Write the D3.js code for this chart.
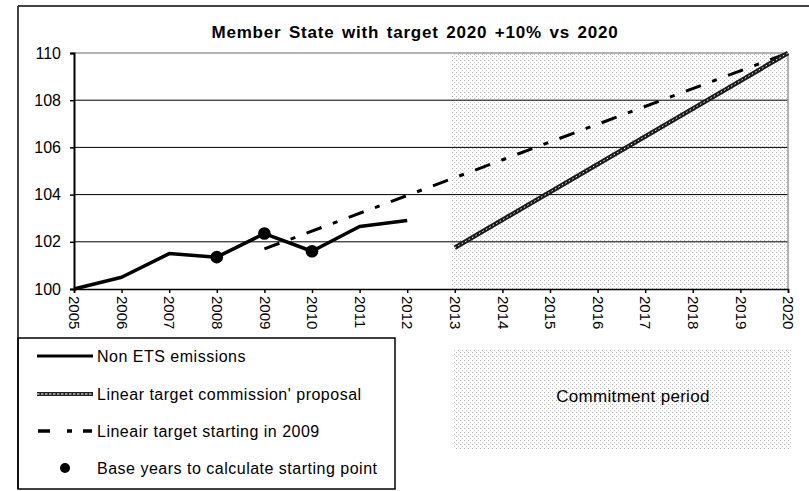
<!DOCTYPE html>
<html>
<head>
<meta charset="utf-8">
<script src="https://cdn.jsdelivr.net/npm/d3@7"></script>
<style>
  body { margin: 0; background: #fff; }
  svg text { font-family: "Liberation Sans", Arial, sans-serif; fill: #000; }
</style>
</head>
<body>
<svg id="chart" width="809" height="491"></svg>
<script>
// chart data
const years = [2005, 2006, 2007, 2008, 2009, 2010, 2011, 2012, 2013, 2014, 2015, 2016, 2017, 2018, 2019, 2020];
const yTicks = [100, 102, 104, 106, 108, 110];

// non ETS emissions (index 2005 = 100)
const emissionYears = [2005, 2006, 2007, 2008, 2009, 2010, 2011, 2012];
const emissionValues = [100, 100.5, 101.5, 101.35, 102.35, 101.6, 102.65, 102.9];

// linear target commission' proposal
const commissionYears = [2013, 2020];
const commissionValues = [101.75, 110];

// lineair target starting in 2009
const target2009Years = [2009, 2020];
const target2009Values = [101.7, 110];

// base years used for the starting point
const baseYears = [2008, 2009, 2010];

const commitmentStart = 2013;
const commitmentEnd = 2020;

const svg = d3.select('#chart');

// pixel layout
const plotLeft = 74, plotRight = 788, plotTop = 53, plotBottom = 289;

const x = d3.scaleLinear().domain([2005, 2020]).range([plotLeft, plotRight]);
const y = d3.scaleLinear().domain([100, 110]).range([plotBottom, plotTop]);

// dotted fill used for the commitment period
const defs = svg.append('defs');
const pat = defs.append('pattern')
    .attr('id', 'dots')
    .attr('patternUnits', 'userSpaceOnUse')
    .attr('width', 4)
    .attr('height', 4);
pat.append('rect').attr('x', 0).attr('y', 0).attr('width', 1).attr('height', 1).attr('fill', '#b0b0b0');
pat.append('rect').attr('x', 2).attr('y', 2).attr('width', 1).attr('height', 1).attr('fill', '#c8c8c8');

// outer frame (top + left only)
svg.append('line').attr('x1', 18).attr('x2', 809).attr('y1', 6).attr('y2', 6)
    .attr('stroke', '#444').attr('stroke-width', 2);
svg.append('line').attr('x1', 18).attr('x2', 18).attr('y1', 6).attr('y2', 489)
    .attr('stroke', '#444').attr('stroke-width', 2);

// title
svg.append('text')
    .attr('x', 415).attr('y', 38)
    .attr('text-anchor', 'middle')
    .style('font-size', '17px')
    .style('font-weight', 'bold')
    .style('letter-spacing', '0.8px')
    .style('word-spacing', '2px')
    .text('Member State with target 2020 +10% vs 2020');

// commitment period shading
svg.append('rect')
    .attr('x', x(commitmentStart) - 4)
    .attr('y', plotTop)
    .attr('width', x(commitmentEnd) - x(commitmentStart) + 4)
    .attr('height', plotBottom - plotTop)
    .attr('fill', 'url(#dots)');

// gridlines
svg.append('g')
    .selectAll('line')
    .data(yTicks.filter(d => d > 100 && d < 110))
    .join('line')
    .attr('x1', plotLeft).attr('x2', plotRight)
    .attr('y1', d => y(d)).attr('y2', d => y(d))
    .attr('stroke', '#000').attr('stroke-width', 1);

// plot border top/right in grey
svg.append('line').attr('x1', plotLeft).attr('x2', plotRight).attr('y1', plotTop).attr('y2', plotTop)
    .attr('stroke', '#999').attr('stroke-width', 1.5);
svg.append('line').attr('x1', plotRight).attr('x2', plotRight).attr('y1', plotTop).attr('y2', plotBottom)
    .attr('stroke', '#999').attr('stroke-width', 1.5);

// axes
const yAxis = d3.axisLeft(y).tickValues(yTicks).tickSize(4).tickPadding(9).tickFormat(d3.format('d'));
const gy = svg.append('g').attr('transform', `translate(${plotLeft},0)`).call(yAxis);
gy.select('.domain').attr('stroke-width', 2);
gy.selectAll('.tick line').attr('stroke-width', 1.5);
gy.selectAll('.tick text').style('font-size', '16px').attr('font-family', null);

const xAxis = d3.axisBottom(x).tickValues(years).tickSize(4).tickFormat(d3.format('d'));
const gx = svg.append('g').attr('transform', `translate(0,${plotBottom})`).call(xAxis);
gx.select('.domain').attr('stroke-width', 1.5);
gx.selectAll('.tick line').attr('stroke-width', 1.5);
gx.selectAll('.tick text')
    .style('font-size', '15px')
    .attr('font-family', null)
    .attr('transform', 'rotate(90)')
    .attr('text-anchor', 'start')
    .attr('x', 7)
    .attr('y', 0)
    .attr('dy', '0.35em');

const line = d3.line().x(d => x(d[0])).y(d => y(d[1]));

// lineair target starting in 2009
const target2009 = target2009Years.map((yr, i) => [yr, target2009Values[i]]);
svg.append('path')
    .datum(target2009)
    .attr('d', line)
    .attr('fill', 'none')
    .attr('stroke', '#000')
    .attr('stroke-width', 3)
    .attr('stroke-dasharray', '16,12,5,12');

// linear target commission' proposal
const commission = commissionYears.map((yr, i) => [yr, commissionValues[i]]);
svg.append('path')
    .datum(commission)
    .attr('d', line)
    .attr('fill', 'none')
    .attr('stroke', '#1a1a1a')
    .attr('stroke-width', 4.5);
svg.append('path')
    .datum(commission)
    .attr('d', line)
    .attr('fill', 'none')
    .attr('stroke', '#fff')
    .attr('stroke-width', 1)
    .attr('stroke-dasharray', '1.5,2.5');

// non ETS emissions
const emissions = emissionYears.map((yr, i) => [yr, emissionValues[i]]);
svg.append('path')
    .datum(emissions)
    .attr('d', line)
    .attr('fill', 'none')
    .attr('stroke', '#000')
    .attr('stroke-width', 3.5)
    .attr('stroke-linejoin', 'round');

// base year markers
svg.append('g')
    .selectAll('circle')
    .data(emissions.filter(d => baseYears.includes(d[0])))
    .join('circle')
    .attr('cx', d => x(d[0]))
    .attr('cy', d => y(d[1]))
    .attr('r', 6.3)
    .attr('fill', '#000');

// legend box
svg.append('rect')
    .attr('x', 18).attr('y', 338)
    .attr('width', 377).attr('height', 151)
    .attr('fill', 'none')
    .attr('stroke', '#000')
    .attr('stroke-width', 1.5);

const legendItems = [
    { label: 'Non ETS emissions', y: 356, kind: 'solid' },
    { label: "Linear target commission' proposal", y: 394, kind: 'commission' },
    { label: 'Lineair target starting in 2009', y: 431, kind: 'dashdot' },
    { label: 'Base years to calculate starting point', y: 468, kind: 'dot' }
];

const lg = svg.append('g');
legendItems.forEach(item => {
    if (item.kind === 'solid') {
        lg.append('line').attr('x1', 37).attr('x2', 93).attr('y1', item.y).attr('y2', item.y)
            .attr('stroke', '#000').attr('stroke-width', 3);
    } else if (item.kind === 'commission') {
        lg.append('line').attr('x1', 37).attr('x2', 93).attr('y1', item.y).attr('y2', item.y)
            .attr('stroke', '#222').attr('stroke-width', 4);
        lg.append('line').attr('x1', 37).attr('x2', 93).attr('y1', item.y).attr('y2', item.y)
            .attr('stroke', '#fff').attr('stroke-width', 1.2).attr('stroke-dasharray', '2.5,1.5');
    } else if (item.kind === 'dashdot') {
        lg.append('line').attr('x1', 38).attr('x2', 92).attr('y1', item.y).attr('y2', item.y)
            .attr('stroke', '#000').attr('stroke-width', 3.5).attr('stroke-dasharray', '12,17,5,11,12');
    } else {
        lg.append('circle').attr('cx', 65).attr('cy', item.y).attr('r', 5).attr('fill', '#000');
    }
    lg.append('text')
        .attr('x', 97).attr('y', item.y)
        .attr('dy', '0.35em')
        .style('font-size', '16px')
        .style('letter-spacing', '0.5px')
        .text(item.label);
});

// commitment period label box
svg.append('rect')
    .attr('x', 453).attr('y', 350)
    .attr('width', 338).attr('height', 100)
    .attr('fill', 'url(#dots)');
svg.append('text')
    .attr('x', 633).attr('y', 396)
    .attr('dy', '0.35em')
    .attr('text-anchor', 'middle')
    .style('font-size', '17px')
    .style('letter-spacing', '0.3px')
    .text('Commitment period');
</script>
</body>
</html>
